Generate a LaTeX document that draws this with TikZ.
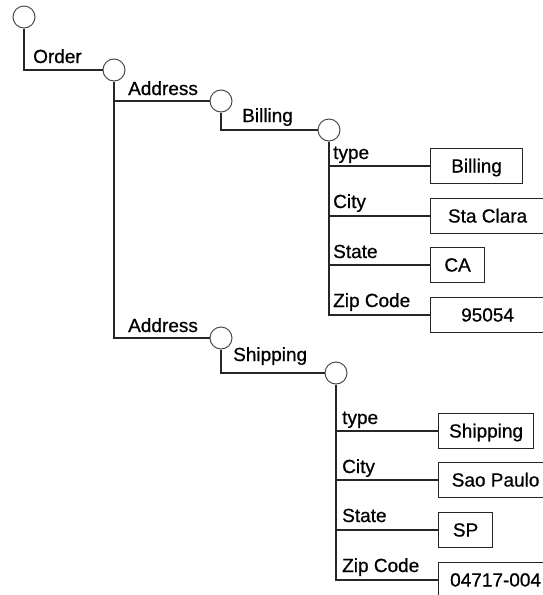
\documentclass[tikz,border=0pt]{standalone}
\usepackage{fontspec}
\setmainfont{Liberation Sans}
\newfontfamily\lbfont{Liberation Sans}[FakeBold=0.7]
\begin{document}
\begin{tikzpicture}[x=1pt,y=-1pt,
  ln/.style={line width=1.2pt, draw=black!85},
  knot/.style={circle, draw=black!70, line width=1pt, minimum size=22pt, inner sep=0pt, fill=white},
  lbl/.style={anchor=base west, inner sep=0pt, font=\lbfont\fontsize{19}{22}\selectfont},
  val/.style={draw=black!85, line width=1.2pt, minimum height=35pt, inner sep=0pt, anchor=west, text height=13pt, text depth=0pt, font=\lbfont\fontsize{19}{22}\selectfont}]
\useasboundingbox (0,0) rectangle (543,595);
\clip (0,0) rectangle (543,595);
% knots
\node[knot] (c1) at (24,17) {};
\node[knot] (c2) at (114,70) {};
\node[knot] (c3) at (221,101) {};
\node[knot] (c4) at (329,130) {};
\node[knot] (c5) at (221,338) {};
\node[knot] (c6) at (336,373) {};
% value boxes (billing)
\node[val, minimum width=92pt] (bt) at (430,166) {Billing};
\node[val, minimum width=114pt] (bc) at (430,216) {Sta Clara};
\node[val, minimum width=54pt] (bs) at (430,265) {CA};
\node[val, minimum width=114pt] (bz) at (430,315) {95054};
% value boxes (shipping)
\node[val, minimum width=95pt] (st) at (438,431) {Shipping};
\node[val, minimum width=114pt] (sc) at (438,480) {Sao Paulo};
\node[val, minimum width=54pt] (ss) at (438,530) {SP};
\node[val, minimum width=114pt] (sz) at (438,580) {04717-004};
% connectors
\draw[ln] (c1.south) |- (c2.west);
\draw[ln] (c2.south) |- (c3.west);
\draw[ln] (c2.south) |- (c5.west);
\draw[ln] (c3.south) |- (c4.west);
\draw[ln] (c5.south) |- (c6.west);
\draw[ln] (c4.south) |- (bt.west);
\draw[ln] (c4.south) |- (bc.west);
\draw[ln] (c4.south) |- (bs.west);
\draw[ln] (c4.south) |- (bz.west);
\draw[ln] (c6.south) |- (st.west);
\draw[ln] (c6.south) |- (sc.west);
\draw[ln] (c6.south) |- (ss.west);
\draw[ln] (c6.south) |- (sz.west);
% labels
\node[lbl] (lorder) at (33,63) {Order};
\node[lbl] (laddr1) at (128,95) {Address};
\node[lbl] (lbill) at (242,122) {Billing};
\node[lbl] (lbt) at (333,159) {type};
\node[lbl] (lbc) at (333,208) {City};
\node[lbl] (lbs) at (333,258) {State};
\node[lbl] (lbz) at (333,307) {Zip Code};
\node[lbl] (laddr2) at (128,332) {Address};
\node[lbl] (lship) at (233,361) {Shipping};
\node[lbl] (lst) at (342,424) {type};
\node[lbl] (lsc) at (342,473) {City};
\node[lbl] (lss) at (342,522) {State};
\node[lbl] (lsz) at (342,572) {Zip Code};
\end{tikzpicture}
\end{document}
